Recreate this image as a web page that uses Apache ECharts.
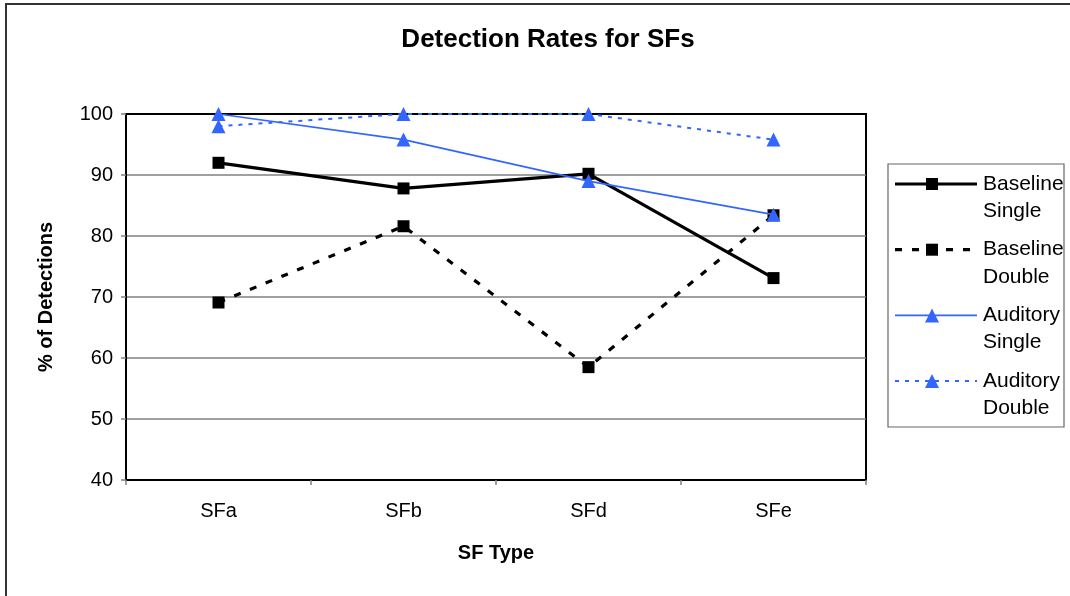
<!DOCTYPE html>
<html>
<head>
<meta charset="utf-8">
<script src="https://cdn.jsdelivr.net/npm/echarts@6/dist/echarts.min.js"></script>
<style>
html,body{margin:0;padding:0;background:#fff;}
#chart{width:1070px;height:596px;}
</style>
</head>
<body>
<div id="chart"></div>
<script>
const categories = ['SFa', 'SFb', 'SFd', 'SFe'];
const seriesNames = ['Baseline\nSingle', 'Baseline\nDouble', 'Auditory\nSingle', 'Auditory\nDouble'];
const baselineSingle = [92.0, 87.8, 90.2, 73.1];
const baselineDouble = [69.1, 81.6, 58.5, 83.4];
const auditorySingle = [100, 95.8, 89.0, 83.5];
const auditoryDouble = [98.0, 100, 100, 95.8];
const yMin = 40, yMax = 100, yStep = 10;

const BLUE = '#3366FF';
const FONT = 'Liberation Sans, Arial, sans-serif';

const styles = [
  {color:'#000', width:3.2, dash:null, symbol:'rect', size:12},
  {color:'#000', width:3.2, dash:[7,10], symbol:'rect', size:12},
  {color:BLUE, width:1.6, dash:null, symbol:'triangle', size:14},
  {color:BLUE, width:2, dash:[4,6], symbol:'triangle', size:14}
];
const values = [baselineSingle, baselineDouble, auditorySingle, auditoryDouble];

const chart = echarts.init(document.getElementById('chart'), null, {renderer:'canvas'});

const series = values.map((v, i) => ({
  name: seriesNames[i],
  type: 'line',
  data: v,
  symbol: styles[i].symbol,
  symbolSize: styles[i].size,
  lineStyle: {color: styles[i].color, width: styles[i].width, type: styles[i].dash || 'solid'},
  itemStyle: {color: styles[i].color},
  z: 3 + i,
  animation: false
}));

// legend drawn as graphic
const legendLeft = 888, legendTop = 164;
const g = [];
g.push({type:'rect', shape:{x:6, y:4, width:1100, height:640}, style:{fill:null, stroke:'#333', lineWidth:2}, silent:true});
g.push({type:'rect', shape:{x:legendLeft, y:legendTop, width:176, height:263}, style:{fill:'#fff', stroke:'#666', lineWidth:1.2}, silent:true});
seriesNames.forEach((name, i) => {
  const cy = legendTop + 20 + i * 65.7;
  const st = styles[i];
  g.push({type:'line', shape:{x1:legendLeft+7, y1:cy, x2:legendLeft+89, y2:cy},
    style:{stroke:st.color, lineWidth:st.width, lineDash: st.dash || null}, silent:true});
  const mx = legendLeft + 44;
  if (st.symbol === 'rect') {
    g.push({type:'rect', shape:{x:mx-6, y:cy-6, width:12, height:12}, style:{fill:st.color}, silent:true});
  } else {
    g.push({type:'polygon', shape:{points:[[mx, cy-7],[mx+7, cy+7],[mx-7, cy+7]]}, style:{fill:st.color}, silent:true});
  }
  g.push({type:'text', x:legendLeft+95, y:cy-14, style:{text:name, fill:'#000', font:'21px ' + FONT, lineHeight:27.5, verticalAlign:'top'}, silent:true});
});

const option = {
  backgroundColor: '#fff',
  animation: false,
  title: {
    text: 'Detection Rates for SFs',
    left: 543, top: 22, textAlign: 'center',
    textStyle: {fontFamily: FONT, fontSize: 26, fontWeight: 'bold', color: '#000'}
  },
  grid: {left:126, top:114, width:740, height:366, show:true, borderColor:'#000', borderWidth:2, backgroundColor:'transparent'},
  xAxis: {
    type: 'category',
    data: categories,
    boundaryGap: true,
    name: 'SF Type',
    nameLocation: 'middle',
    nameGap: 63,
    nameTextStyle: {fontFamily: FONT, fontSize: 20, fontWeight: 'bold', color: '#000'},
    axisLine: {show:true, lineStyle:{color:'#000', width:2}},
    axisTick: {show:true, length:5, lineStyle:{color:'#808080', width:1.5}},
    axisLabel: {fontFamily: FONT, fontSize: 20, color:'#000', margin: 21},
    splitLine: {show:false}
  },
  yAxis: {
    type: 'value',
    min: yMin, max: yMax, interval: yStep,
    name: '% of Detections',
    nameLocation: 'middle',
    nameGap: 70,
    nameRotate: 90,
    nameTextStyle: {fontFamily: FONT, fontSize: 20, fontWeight: 'bold', color: '#000'},
    axisLine: {show:true, lineStyle:{color:'#000', width:2}},
    axisTick: {show:true, length:5, lineStyle:{color:'#808080', width:1.5}},
    axisLabel: {fontFamily: FONT, fontSize: 20, color:'#000', margin: 13},
    splitLine: {show:true, showMinLine:false, showMaxLine:false, lineStyle:{color:'#808080', width:1.5}}
  },
  series: series,
  graphic: g
};
chart.setOption(option);
</script>
</body>
</html>
